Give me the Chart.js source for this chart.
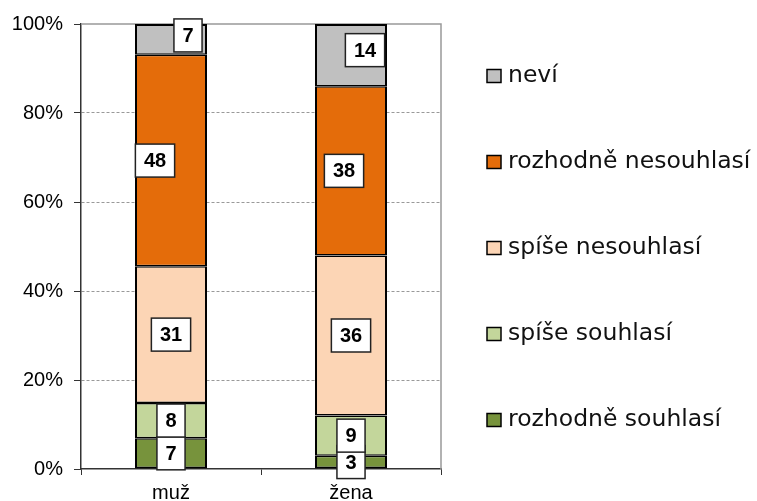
<!DOCTYPE html>
<html lang="cs">
<head>
<meta charset="UTF-8">
<title>Souhlas podle pohlaví</title>
<script src="https://cdn.jsdelivr.net/npm/chart.js"></script>
<style>
  html, body { margin: 0; padding: 0; background: #fff; }
  #wrap { width: 757px; height: 501px; }
</style>
</head>
<body>
<div id="wrap"><canvas id="chart"></canvas></div>
<script>
var categories = ['muž', 'žena'];
var seriesNames = ['rozhodně souhlasí', 'spíše souhlasí', 'spíše nesouhlasí', 'rozhodně nesouhlasí', 'neví'];
var rozhodneSouhlasi = [7, 3];
var spiseSouhlasi = [8, 9];
var spiseNesouhlasi = [31, 36];
var rozhodneNesouhlasi = [48, 38];
var nevi = [7, 14];
var yTicks = [0, 20, 40, 60, 80, 100];

var seriesValues = [rozhodneSouhlasi, spiseSouhlasi, spiseNesouhlasi, rozhodneNesouhlasi, nevi];
var colors = ['#77933C', '#C3D69B', '#FCD5B5', '#E46C0A', '#C0C0C0'];
// labels moved by hand in the original (dx, dy), key = category-series
var labelShift = { '0-3': [-16, 0], '0-4': [17, -4], '1-3': [-7, 0], '1-4': [14, -5] };

var totals = categories.map(function(c, j) {
  return seriesValues.reduce(function(s, arr) { return s + arr[j]; }, 0);
});
var last = seriesNames.length - 1;

var datasets = seriesNames.map(function(name, i) {
  return {
    label: name,
    raw: seriesValues[i],
    data: seriesValues[i].map(function(v, j) { return v / totals[j] * 100; }),
    backgroundColor: colors[i],
    borderColor: '#000',
    borderWidth: { left: 2, right: 2, top: i === last ? 2 : 1.5, bottom: i === 0 ? 2 : 1.5 },
    borderSkipped: false,
    inflateAmount: 0,
    barPercentage: 0.4,
    categoryPercentage: 1.0
  };
});

var frame = {
  id: 'frame',
  beforeDatasetsDraw: function(chart) {
    var a = chart.chartArea, ctx = chart.ctx;
    ctx.save();
    ctx.strokeStyle = '#999';
    ctx.lineWidth = 1.5;
    ctx.beginPath();
    ctx.moveTo(a.left, a.top);
    ctx.lineTo(a.right, a.top);
    ctx.lineTo(a.right, a.bottom);
    ctx.stroke();
    ctx.restore();
  }
};

var boxLabels = {
  id: 'boxLabels',
  afterDatasetsDraw: function(chart) {
    var ctx = chart.ctx;
    ctx.save();
    ctx.font = 'bold 20px "Liberation Sans", Arial, sans-serif';
    ctx.textAlign = 'center';
    ctx.textBaseline = 'middle';
    chart.data.datasets.forEach(function(ds, i) {
      chart.getDatasetMeta(i).data.forEach(function(el, j) {
        var txt = String(ds.raw[j]);
        var sh = labelShift[j + '-' + i] || [0, 0];
        var cx = el.x + sh[0];
        var cy = (el.y + el.base) / 2 + sh[1];
        var w = ctx.measureText(txt).width + 17;
        var h = 33;
        ctx.fillStyle = '#fff';
        ctx.fillRect(cx - w / 2, cy - h / 2, w, h);
        ctx.strokeStyle = '#222';
        ctx.lineWidth = 1.5;
        ctx.strokeRect(cx - w / 2, cy - h / 2, w, h);
        ctx.fillStyle = '#000';
        ctx.fillText(txt, cx, cy + 1);
      });
    });
    ctx.restore();
  }
};

var sideLegend = {
  id: 'sideLegend',
  afterDraw: function(chart) {
    var ctx = chart.ctx;
    ctx.save();
    ctx.font = '23.5px "DejaVu Sans", sans-serif';
    ctx.textBaseline = 'middle';
    ctx.textAlign = 'left';
    var x = 487, y0 = 76, step = 86;
    for (var k = 0; k <= last; k++) {
      var i = last - k;
      var y = y0 + k * step;
      ctx.fillStyle = colors[i];
      ctx.fillRect(x, y - 6.5, 14, 13);
      ctx.strokeStyle = '#000';
      ctx.lineWidth = 1.5;
      ctx.strokeRect(x, y - 6.5, 14, 13);
      ctx.fillStyle = '#111';
      ctx.fillText(seriesNames[i], x + 21, y);
    }
    ctx.restore();
  }
};

new Chart(document.getElementById('chart'), {
  type: 'bar',
  data: { labels: categories, datasets: datasets },
  plugins: [frame, boxLabels, sideLegend],
  options: {
    responsive: true,
    maintainAspectRatio: false,
    animation: false,
    devicePixelRatio: 1,
    layout: { padding: { top: 24, right: 316, bottom: 0, left: 0 } },
    plugins: { legend: { display: false }, tooltip: { enabled: false } },
    scales: {
      x: {
        stacked: true,
        afterFit: function(s) { s.height = 32; },
        grid: { display: true, drawOnChartArea: false, drawTicks: true, tickLength: 6, tickColor: '#333', offset: true },
        border: { display: true, color: '#333', width: 1.5 },
        ticks: { color: '#000', padding: 6, font: { family: '"Liberation Sans", Arial, sans-serif', size: 20 } }
      },
      y: {
        stacked: true,
        min: 0,
        max: 100,
        afterFit: function(s) { s.width = 81; },
        afterBuildTicks: function(s) { s.ticks = yTicks.map(function(v) { return { value: v }; }); },
        grid: {
          color: function(c) { return (c.tick && (c.tick.value === 0 || c.tick.value === 100)) ? 'rgba(0,0,0,0)' : '#999'; },
          lineWidth: 1,
          tickLength: 7,
          tickColor: '#333',
          tickBorderDash: []
        },
        border: { display: true, color: '#333', width: 1.5, dash: [3, 2] },
        ticks: {
          color: '#000',
          padding: 11,
          font: { family: '"Liberation Sans", Arial, sans-serif', size: 20 },
          callback: function(v) { return v + '%'; }
        }
      }
    }
  }
});
</script>
</body>
</html>
